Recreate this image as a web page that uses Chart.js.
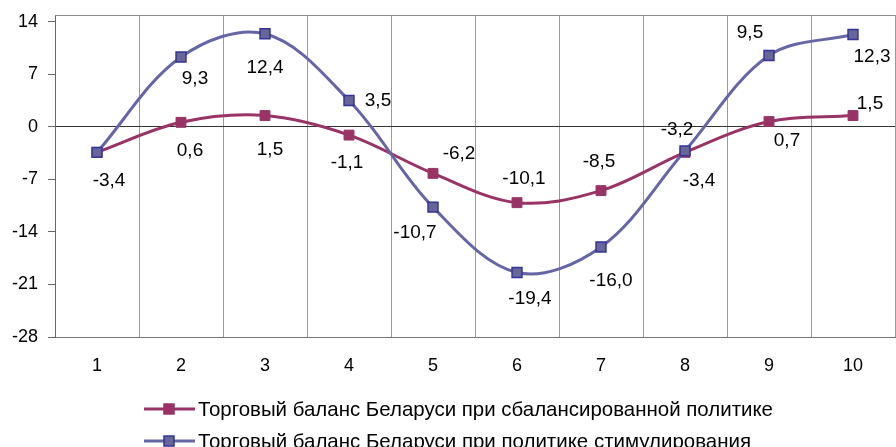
<!DOCTYPE html>
<html>
<head>
<meta charset="utf-8">
<script src="https://cdn.jsdelivr.net/npm/chart.js@4/dist/chart.umd.min.js"></script>
<style>
  html, body { margin: 0; padding: 0; background: #ffffff; }
  #wrap { width: 896px; height: 447px; position: relative; }
</style>
</head>
<body>
<div id="wrap"><canvas id="c" width="896" height="447"></canvas></div>
<script>
// ---- data ----
const categories = ['1', '2', '3', '4', '5', '6', '7', '8', '9', '10'];
const balancedPolicy = [-3.4, 0.6, 1.5, -1.1, -6.2, -10.1, -8.5, -3.4, 0.7, 1.5];
const stimulusPolicy = [-3.4, 9.3, 12.4, 3.5, -10.7, -19.4, -16.0, -3.2, 9.5, 12.3];
const yTickValues = [-28, -21, -14, -7, 0, 7, 14];
const seriesNames = [
  'Торговый баланс Беларуси при сбалансированной политике',
  'Торговый баланс Беларуси при политике стимулирования'
];

// ---- layout (label offsets in px, relative to each point) ----
const balancedLabelOffsets = [null, [9, 28], [5, 34], [-2, 28], [26, -20], [7, -24], [-2, -29], [14, 28], [18, 19], [17, -12]];
const stimulusLabelOffsets = [[12, 28], [14, 22], [0, 34], [29, 0], [-18, 26], [13, 26], [10, 34], [-8, -21], [-19, -23], [19, 22]];

const FONT = '"Liberation Sans", Arial, sans-serif';
const COL_BAL = '#993366';
const COL_STIM = '#6666a6';
const COL_STIM_PT = '#666699';
const COL_STIM_PT_BORDER = '#333399';

const fmt = v => v.toFixed(1).replace('.', ',');

const labelPlugin = {
  id: 'valueLabels',
  afterDatasetsDraw(chart) {
    const ctx = chart.ctx;
    ctx.save();
    ctx.font = '19px ' + FONT;
    ctx.fillStyle = '#000';
    ctx.textAlign = 'center';
    ctx.textBaseline = 'middle';
    const offs = [balancedLabelOffsets, stimulusLabelOffsets];
    chart.data.datasets.forEach((ds, di) => {
      const meta = chart.getDatasetMeta(di);
      meta.data.forEach((pt, i) => {
        const o = offs[di][i];
        if (!o) return;
        ctx.fillText(fmt(ds.data[i]), pt.x + o[0], pt.y + o[1]);
      });
    });
    ctx.restore();
  }
};

const framePlugin = {
  id: 'frame',
  beforeDatasetsDraw(chart) {
    const a = chart.chartArea, ctx = chart.ctx;
    ctx.save();
    ctx.strokeStyle = '#8c8c8c';
    ctx.lineWidth = 1;
    ctx.beginPath();
    ctx.moveTo(a.left, a.top + 0.5);
    ctx.lineTo(a.right, a.top + 0.5);
    ctx.stroke();
    ctx.restore();
  }
};

const legendPlugin = {
  id: 'customLegend',
  afterDraw(chart) {
    const ctx = chart.ctx;
    const rows = [409, 441];
    const widths = [575, 553];
    ctx.save();
    chart.data.datasets.forEach((ds, i) => {
      const y = rows[i];
      ctx.strokeStyle = ds.borderColor;
      ctx.lineWidth = 3;
      ctx.beginPath();
      ctx.moveTo(144, y);
      ctx.lineTo(195, y);
      ctx.stroke();
      ctx.fillStyle = ds.pointBackgroundColor;
      ctx.fillRect(164, y - 5, 10, 10);
      ctx.strokeStyle = ds.pointBorderColor;
      ctx.lineWidth = 1.5;
      ctx.strokeRect(164, y - 5, 10, 10);
      ctx.fillStyle = '#000';
      ctx.font = '21px ' + FONT;
      ctx.textAlign = 'left';
      ctx.textBaseline = 'alphabetic';
      const w = ctx.measureText(ds.label).width;
      ctx.fillText(ds.label, 198, y + 7, Math.min(w, widths[i]));
    });
    ctx.restore();
  }
};

new Chart(document.getElementById('c'), {
  type: 'line',
  data: {
    labels: categories,
    datasets: [
      {
        label: seriesNames[0],
        data: balancedPolicy,
        borderColor: COL_BAL,
        backgroundColor: COL_BAL,
        pointBackgroundColor: COL_BAL,
        pointBorderColor: COL_BAL,
        borderWidth: 3,
        pointStyle: 'rect',
        pointRadius: 7,
        pointBorderWidth: 1,
        tension: 0.35,
        order: 1
      },
      {
        label: seriesNames[1],
        data: stimulusPolicy,
        borderColor: COL_STIM,
        backgroundColor: COL_STIM_PT,
        pointBackgroundColor: COL_STIM_PT,
        pointBorderColor: COL_STIM_PT_BORDER,
        borderWidth: 3,
        pointStyle: 'rect',
        pointRadius: 7,
        pointBorderWidth: 1.5,
        tension: 0.35,
        order: 0
      }
    ]
  },
  options: {
    responsive: false,
    animation: false,
    devicePixelRatio: 1,
    layout: { autoPadding: false, padding: { top: 15, right: 1, bottom: 0, left: 0 } },
    plugins: {
      legend: { display: false },
      tooltip: { enabled: false },
      title: { display: false }
    },
    scales: {
      x: {
        offset: true,
        grid: { offset: true, color: '#9a9a9a', drawTicks: false, lineWidth: 1 },
        border: { display: true, color: '#777', width: 1 },
        ticks: { color: '#000', font: { family: FONT, size: 18 }, padding: 18, maxRotation: 0, autoSkip: false },
        afterFit(scale) { scale.height = 110; scale.paddingLeft = 0; scale.paddingRight = 0; }
      },
      y: {
        min: -28,
        max: 14.9,
        afterBuildTicks(scale) { scale.ticks = yTickValues.map(v => ({ value: v })); },
        grid: {
          color: ctx => (ctx.tick && ctx.tick.value === 0) ? '#333' : 'rgba(0,0,0,0)',
          tickColor: '#666',
          tickLength: 7,
          drawTicks: true
        },
        border: { display: true, color: '#666', width: 1 },
        ticks: { color: '#000', font: { family: FONT, size: 18 }, padding: 10 },
        afterFit(scale) { scale.width = 55; scale.paddingTop = 0; scale.paddingBottom = 0; }
      }
    }
  },
  plugins: [framePlugin, labelPlugin, legendPlugin]
});
</script>
</body>
</html>
